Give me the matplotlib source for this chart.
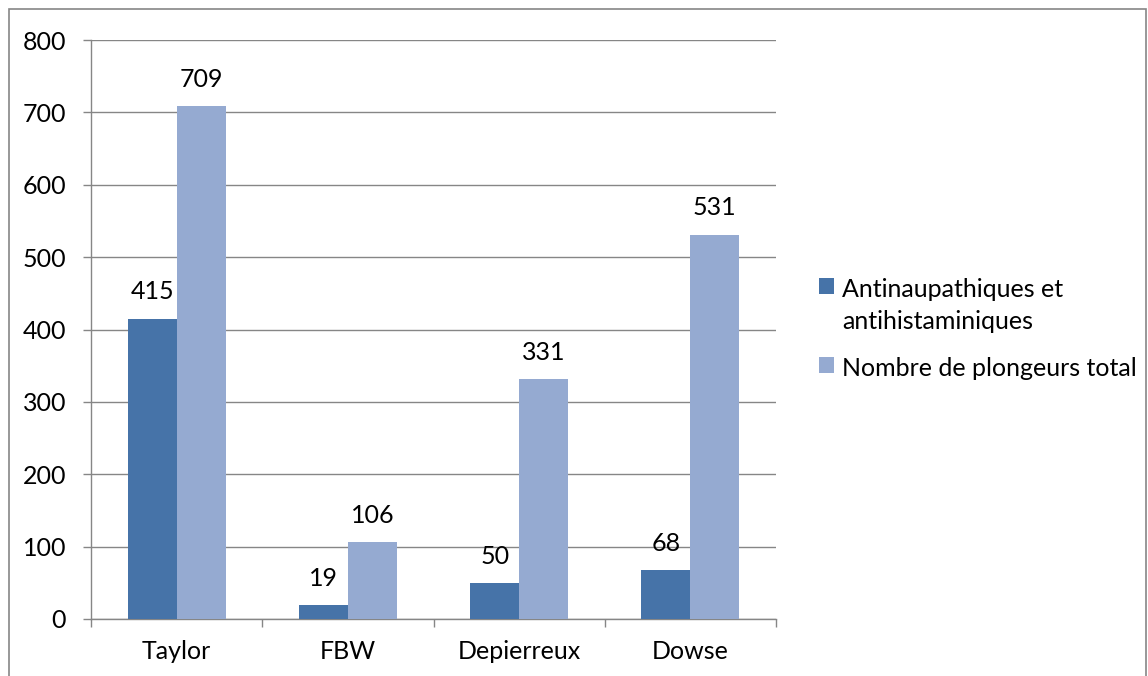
import matplotlib.pyplot as plt
import numpy as np
from matplotlib.patches import Rectangle

# Etudes et nombre de plongeurs
etudes = ['Taylor', 'FBW', 'Depierreux', 'Dowse']
antinaupathiques = [415, 19, 50, 68]
plongeurs_total = [709, 106, 331, 531]
series_names = ['Antinaupathiques et\nantihistaminiques', 'Nombre de plongeurs total']

plt.rcParams['font.family'] = ['Lato', 'DejaVu Sans']

DARK = '#4673A8'
LIGHT = '#95AAD1'
GREY = '#868686'
FS = 18

fig = plt.figure(figsize=(11.48, 6.76), dpi=100)
ax = fig.add_axes([91 / 1148, 57 / 676, 685 / 1148, 579 / 676])

x = np.arange(len(etudes))
w = 1 / 3.5
b1 = ax.bar(x - w / 2, antinaupathiques, w, color=DARK, label=series_names[0], zorder=3)
b2 = ax.bar(x + w / 2, plongeurs_total, w, color=LIGHT, label=series_names[1], zorder=3)
ax.bar_label(b1, padding=11, fontsize=FS)
ax.bar_label(b2, padding=11, fontsize=FS)

ax.set_xlim(-0.5, len(etudes) - 0.5)
ax.set_ylim(0, 800)
ax.set_yticks(range(0, 801, 100))
ax.yaxis.grid(True, color=GREY, linewidth=1, zorder=0)

# category ticks sit between the groups
ax.set_xticks(x)
ax.set_xticklabels(etudes)
ax.set_xticks(np.arange(-0.5, len(etudes)), minor=True)
ax.tick_params(axis='x', which='major', length=0, pad=15, labelsize=FS)
ax.tick_params(axis='x', which='minor', length=6, color=GREY, width=1)
ax.tick_params(axis='y', length=6, color=GREY, width=1, pad=12, labelsize=FS)

for side in ['top', 'right']:
    ax.spines[side].set_visible(False)
for side in ['left', 'bottom']:
    ax.spines[side].set_color(GREY)
    ax.spines[side].set_linewidth(1)

leg = fig.legend(handles=[b1, b2], loc='center left', bbox_to_anchor=(796 / 1148, 1 - 329 / 676),
                 frameon=False, fontsize=FS, handlelength=0.6, handleheight=0.6,
                 handletextpad=0.35, labelspacing=0.95)
for t in leg.get_texts():
    t.set_linespacing(1.5)
# put each colour square next to the first line of its label
for column in leg._legend_handle_box.get_children():
    for item in column.get_children():
        item.align = 'top'

# chart frame
fig.patches.append(Rectangle((9 / 1148, -0.05), 1137 / 1148, 1.05 - 9 / 676,
                             transform=fig.transFigure, fill=False,
                             edgecolor=GREY, linewidth=1.2))

fig.savefig('out.png', dpi=100)
